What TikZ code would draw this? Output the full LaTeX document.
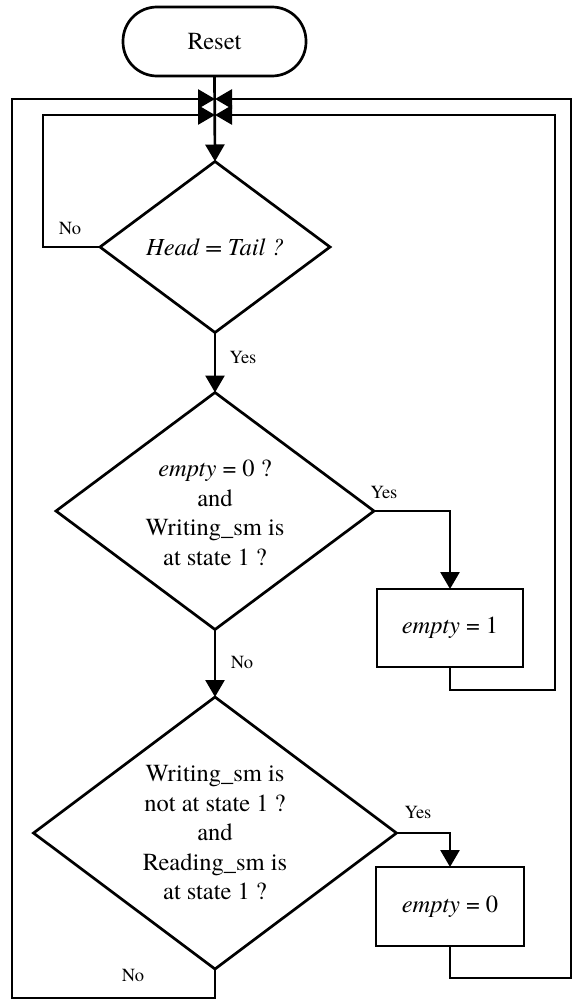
\documentclass[tikz,border=0pt]{standalone}
\usepackage{fontspec}
\setmainfont{texgyretermes}[
  Extension=.otf,
  UprightFont=*-regular,
  ItalicFont=*-italic,
  BoldFont=*-bold,
  BoldItalicFont=*-bolditalic]
\usetikzlibrary{arrows.meta,shapes.geometric}

\tikzset{
  flow/.style={line width=2.7pt},
  arr/.style={flow, -{Triangle[length=17pt,width=19pt]}},
  dia/.style={draw, line width=2.7pt, shape=diamond, inner sep=0pt, outer sep=0pt},
  box/.style={draw, line width=2.7pt, rectangle, inner sep=0pt, outer sep=0pt},
  term/.style={draw, line width=2.7pt, rectangle, rounded corners=34pt, inner sep=0pt, outer sep=0pt},
  txt/.style={align=center, inner sep=0pt, font=\rmfamily\fontsize{24.5}{29.5}\selectfont},
  lbl/.style={inner sep=0pt, font=\rmfamily\fontsize{18.5}{22}\selectfont}
}

\begin{document}
\begin{tikzpicture}[x=1pt, y=-1pt]
  \useasboundingbox (0,0) rectangle (573,1001);

  % start terminal
  \node[term, minimum width=183pt, minimum height=69pt] (reset) at (214.5,41.5) {};
  \node[txt] at (reset) {Reset};

  % junction points where the loops return
  \coordinate (jo) at (215,99);
  \coordinate (ji) at (215,115);

  % decisions
  \node[dia, minimum width=230pt, minimum height=171pt] (d1) at (215,247) {};
  \node[txt] at (d1) {\textit{Head = Tail ?}};

  \node[dia, minimum width=318pt, minimum height=237pt] (d2) at (215,511) {};
  \node[txt] at (215,513) {\textit{empty} = 0 ?\\and\\Writing\_sm is\\at state 1 ?};

  \node[dia, minimum width=363pt, minimum height=272pt] (d3) at (215,833) {};
  \node[txt] at (215,833) {Writing\_sm is\\not at state 1 ?\\and\\Reading\_sm is\\at state 1 ?};

  % actions
  \node[box, minimum width=146pt, minimum height=78pt] (b1) at (450,628) {};
  \node[txt] at (b1) {\textit{empty} = 1};

  \node[box, minimum width=148pt, minimum height=79pt] (b2) at (450,906.5) {};
  \node[txt] at (b2) {\textit{empty} = 0};

  % main vertical flow
  \draw[arr] (reset.south) -- (d1.north);
  \draw[arr] (d1.south) -- (d2.north);
  \draw[arr] (d2.south) -- (d3.north);

  % branches to the actions
  \draw[arr] (d2.east) -| (b1.north);
  \draw[arr] (d3.east) -| (b2.north);

  % loops back to the top
  \draw[arr] (d1.west) -| (43,115) -- (ji);
  \draw[arr] (b1.south) |- (555,690) -- (555,115) -- (ji);
  \draw[arr] (b2.south) |- (571,978) -- (571,99) -- (jo);
  \draw[arr] (d3.south) |- (12,998) -- (12,99) -- (jo);

  % branch labels
  \node[lbl] at (70,228) {No};
  \node[lbl] at (243,357) {Yes};
  \node[lbl] at (384,492) {Yes};
  \node[lbl] at (242,662) {No};
  \node[lbl] at (418,812) {Yes};
  \node[lbl] at (133,975) {No};
\end{tikzpicture}
\end{document}
